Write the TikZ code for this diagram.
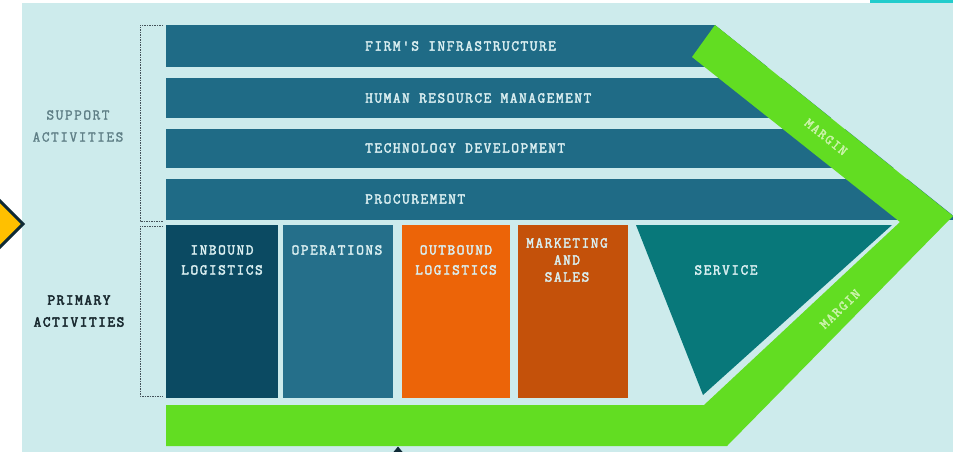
\documentclass[tikz,border=0pt]{standalone}
\usepackage{fontspec}
\newfontfamily\tw{Latin Modern Mono}[LetterSpace=10, FakeBold=2.4]
\newfontfamily\twl{Latin Modern Mono}[LetterSpace=10, FakeBold=1.4]
\newfontfamily\twb{Latin Modern Mono}[LetterSpace=10, FakeBold=3.2]
\definecolor{bgc}{HTML}{CDEBEC}
\definecolor{stripc}{HTML}{22CCCC}
\definecolor{barc}{HTML}{1F6B86}
\definecolor{inbc}{HTML}{0B4A62}
\definecolor{opsc}{HTML}{256F8A}
\definecolor{outc}{HTML}{EC6408}
\definecolor{mktc}{HTML}{C4510A}
\definecolor{srvc}{HTML}{08787A}
\definecolor{grnc}{HTML}{62DD22}
\definecolor{txtc}{HTML}{D9EEF0}
\definecolor{mrgc}{HTML}{C9F3A8}
\definecolor{diaY}{HTML}{FFC000}
\definecolor{diaE}{HTML}{0E2A36}
\definecolor{suppc}{HTML}{5F7F86}
\definecolor{primc}{HTML}{1A2A30}
\definecolor{brkc}{HTML}{44525A}
\begin{document}
\begin{tikzpicture}[x=1pt,y=-1pt,
  lbl/.style={font=\tw\fontsize{15}{20}\selectfont, text=txtc, align=center, inner sep=0pt},
  barlbl/.style={lbl, anchor=west},
  sidelbl/.style={font=\twl\fontsize{15}{22}\selectfont, align=center, inner sep=0pt},
  mrglbl/.style={font=\tw\fontsize{14}{16}\selectfont, text=mrgc, inner sep=0pt},
  bracket/.style={draw=brkc, line width=0.9pt, dash pattern=on 1.5pt off 1pt}
]
\useasboundingbox (0,0) rectangle (953,452);
\fill[white] (0,0) rectangle (953,452);
\fill[bgc] (22,3) rectangle (953,452);
\fill[stripc] (870,0) rectangle (953,3);
% diamond at the left edge
\filldraw[fill=diaY, draw=diaE, line width=3pt] (23,224) -- (-20,181) -- (-63,224) -- (-20,267) -- cycle;
% support bars
\begin{scope}
  \clip (100,0) -- (683.75,0) -- (971,230) -- (100,230) -- cycle;
  \fill[barc] (166,25) rectangle (980,67);
  \fill[barc] (166,78) rectangle (980,118);
  \fill[barc] (166,129) rectangle (980,168);
  \fill[barc] (166,179) rectangle (980,220);
\end{scope}
% primary boxes
\fill[inbc] (166,225) rectangle (278,398);
\fill[opsc] (283,225) rectangle (393,398);
\fill[outc] (402,225) rectangle (510,398);
\fill[mktc] (518,225) rectangle (628,398);
\fill[srvc] (636,225) -- (892,225) -- (703,395) -- cycle;
% margin chevron
\fill[grnc] (715,25) -- (953,216) -- (727,446) -- (166,446) -- (166,405)
  -- (704,405) -- (900,222) -- (692,57) -- cycle;
% brackets
\draw[bracket] (163,25) -- (140,25) -- (140,221) -- (163,221);
\draw[bracket] (163,226) -- (140,226) -- (140,396) -- (163,396);
% small arrow tip at the bottom
\fill[diaE] (398,446.5) -- (393.5,452) -- (402.5,452) -- cycle;
% labels
\node[barlbl] (firm) at (365,46) {FIRM'S INFRASTRUCTURE};
\node[barlbl] (hrm) at (365,98) {HUMAN RESOURCE MANAGEMENT};
\node[barlbl] (tech) at (365,148) {TECHNOLOGY DEVELOPMENT};
\node[barlbl] (proc) at (365,199) {PROCUREMENT};
\node[lbl, anchor=north] (inb) at (222,245) {INBOUND\\LOGISTICS};
\node[lbl, anchor=north] (ops) at (337,245) {OPERATIONS};
\node[lbl, anchor=north] (outb) at (456,245) {OUTBOUND\\LOGISTICS};
\node[lbl, anchor=north, font=\tw\fontsize{15}{17}\selectfont] (mkt) at (567,238) {MARKETING\\AND\\SALES};
\node[lbl] (srv) at (726,270) {SERVICE};
\node[sidelbl, text=suppc] (supp) at (78,126) {SUPPORT\\ACTIVITIES};
\node[sidelbl, font=\twb\fontsize{15}{22}\selectfont, text=primc] (prim) at (79,311) {PRIMARY\\ACTIVITIES};
\node[mrglbl, rotate=-38.7] (m1) at (826,137) {MARGIN};
\node[mrglbl, rotate=44] (m2) at (840,309) {MARGIN};
\end{tikzpicture}
\end{document}
